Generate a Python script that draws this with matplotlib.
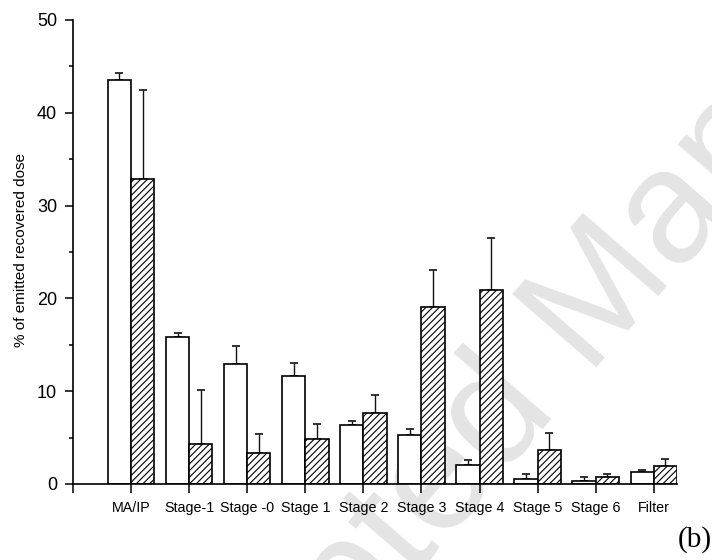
import matplotlib
matplotlib.use("Agg")
import matplotlib.pyplot as plt
from matplotlib.ticker import MultipleLocator
import numpy as np

categories = ["MA/IP", "Stage-1", "Stage -0", "Stage 1", "Stage 2", "Stage 3",
              "Stage 4", "Stage 5", "Stage 6", "Filter"]
white_vals = [43.5, 15.8, 12.9, 11.6, 6.4, 5.25, 2.0, 0.55, 0.32, 1.26]
white_err = [0.8, 0.5, 2.0, 1.4, 0.35, 0.7, 0.55, 0.5, 0.43, 0.28]
hatch_vals = [32.9, 4.28, 3.34, 4.85, 7.62, 19.07, 20.87, 3.66, 0.72, 1.98]
hatch_err = [9.6, 5.8, 2.0, 1.6, 2.0, 4.0, 5.6, 1.8, 0.32, 0.75]
y_label = "% of emitted recovered dose"
panel_label = "(b)"
watermark = "Accepted Manuscript"

plt.rcParams["font.family"] = ["Liberation Sans", "DejaVu Sans"]
plt.rcParams["hatch.linewidth"] = 0.8

fig = plt.figure(figsize=(7.12, 5.6), dpi=100)
ax = fig.add_axes([73/712, 76/560, (677-73)/712, 464/560])
ax.patch.set_alpha(0)

fig.text(612/712, 1 - 350/560, watermark, fontsize=116, color="#e4e4e4", rotation=49,
         ha="center", va="baseline", zorder=-5, rotation_mode="anchor")

x = np.arange(len(categories))
w = 0.4
ax.bar(x - w/2, white_vals, w, color="white", edgecolor="black", linewidth=1.2, zorder=2)
ax.bar(x + w/2, hatch_vals, w, color="white", edgecolor="black", linewidth=1.2,
       hatch="/////", zorder=2)
ekw = dict(fmt="none", ecolor="#111111", elinewidth=1.0, capsize=3.2, capthick=1.2, zorder=1)
ax.errorbar(x - w/2, white_vals, yerr=[np.zeros(len(x)), white_err], **ekw)
ax.errorbar(x + w/2, hatch_vals, yerr=[np.zeros(len(x)), hatch_err], **ekw)

ax.set_xlim(-1, 9.4)
ax.set_ylim(0, 50)
ax.set_xticks(np.arange(-1, len(categories)))
ax.set_xticklabels([""] + categories, fontsize=10.3)
ax.yaxis.set_major_locator(MultipleLocator(10))
ax.yaxis.set_minor_locator(MultipleLocator(5))
ax.tick_params(axis="y", which="major", length=6, width=1.1, labelsize=13, pad=5.5)
ax.tick_params(axis="y", which="minor", length=3, width=1.1)
ax.tick_params(axis="x", which="major", length=6.5, width=1.1, pad=6)
for s in ["top", "right"]:
    ax.spines[s].set_visible(False)
for s in ["left", "bottom"]:
    ax.spines[s].set_linewidth(1.2)

fig.text(21/712, 1 - 250/560, y_label, rotation=90, fontsize=11, ha="center", va="center")
fig.text(1.0, 1 - 540/560, panel_label, fontsize=21, family="Liberation Serif",
         ha="right", va="center")

fig.savefig("out.png", dpi=100)
